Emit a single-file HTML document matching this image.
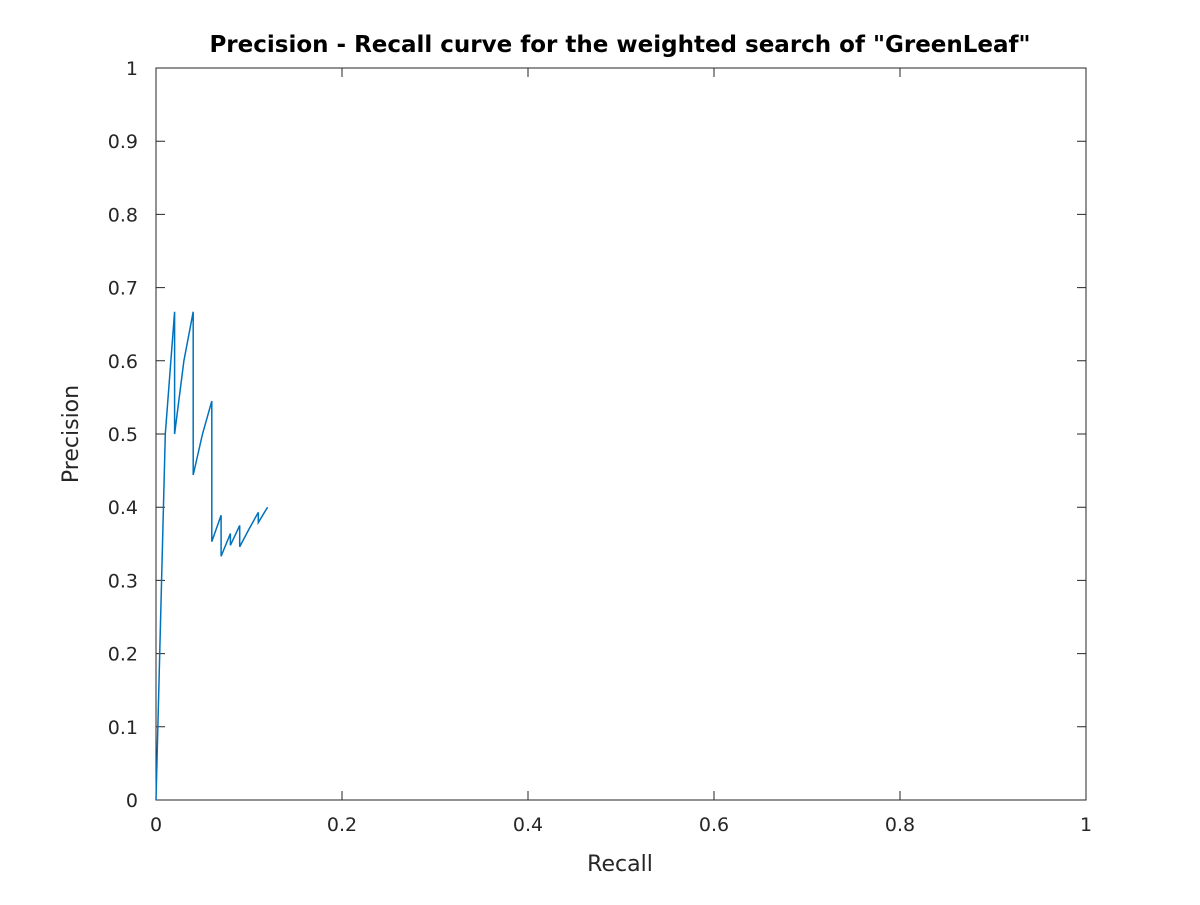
<!DOCTYPE html>
<html><head><meta charset="utf-8"><style>
body{margin:0;background:#fff;}
svg text{font-family:"DejaVu Sans","Liberation Sans",sans-serif;fill:#262626;}
</style></head><body>
<svg id="chart" width="1200" height="900">
<rect x="0" y="0" width="1200" height="900" fill="#fff"/>
<text x="620" y="52" text-anchor="middle" font-size="23" font-weight="bold" style="fill:#000">Precision - Recall curve for the weighted search of "GreenLeaf"</text>
<g id="axes"></g>
<text x="620" y="871" text-anchor="middle" font-size="22">Recall</text>
<text transform="translate(78,434) rotate(-90)" text-anchor="middle" font-size="22">Precision</text>
<path id="curve" fill="none" stroke="#0072bd" stroke-width="1.5"/>
</svg>
<script>
const recall=[0,0.01,0.02,0.02,0.03,0.04,0.04,0.05,0.06,0.06,0.07,0.07,0.08,0.08,0.09,0.09,0.10,0.11,0.11,0.12];
const precision=[0,0.5,0.667,0.5,0.6,0.667,0.444,0.5,0.545,0.353,0.389,0.333,0.364,0.348,0.375,0.346,0.370,0.393,0.379,0.4];
const xTicks=[0,0.2,0.4,0.6,0.8,1];
const xTickLabels=["0","0.2","0.4","0.6","0.8","1"];
const yTicks=[0,0.1,0.2,0.3,0.4,0.5,0.6,0.7,0.8,0.9,1];
const yTickLabels=["0","0.1","0.2","0.3","0.4","0.5","0.6","0.7","0.8","0.9","1"];
const X0=156,X1=1086,Y0=800,Y1=68;
const sx=v=>X0+v*(X1-X0), sy=v=>Y0-v*(Y0-Y1);
const NS="http://www.w3.org/2000/svg";
const g=document.getElementById('axes');
function mk(t,a){const e=document.createElementNS(NS,t);for(const k in a)e.setAttribute(k,a[k]);g.appendChild(e);return e;}
const box=mk('rect',{x:X0,y:Y1,width:X1-X0,height:Y0-Y1,fill:'none',stroke:'#262626','stroke-width':1});


xTicks.forEach((v,i)=>{const x=sx(v);
 const t1=mk('path',{d:`M${x},${Y0}v-9M${x},${Y1}v9`,stroke:'#262626'});
 
 
 const l=mk('text',{x:x,y:Y0+31,'text-anchor':'middle','font-size':19});l.textContent=xTickLabels[i];
 
 
});
yTicks.forEach((v,i)=>{const y=sy(v);
 const t1=mk('path',{d:`M${X0},${y}h9M${X1},${y}h-9`,stroke:'#262626'});
 
 
 const l=mk('text',{x:X0-18,y:y+7,'text-anchor':'end','font-size':19});l.textContent=yTickLabels[i];
 
 
});
document.getElementById('curve').setAttribute('d',recall.map((r,i)=>(i?'L':'M')+sx(r)+','+sy(precision[i])).join(''));
</script>
</body></html>
